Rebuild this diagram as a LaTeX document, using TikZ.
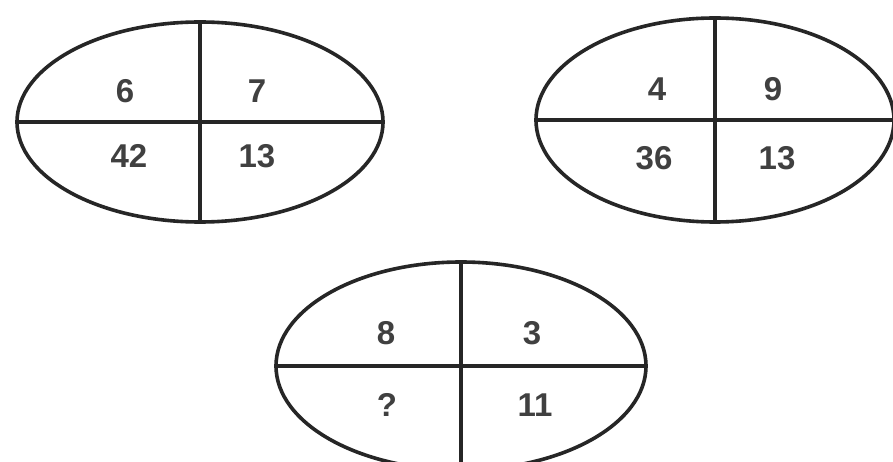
\documentclass[tikz,border=0pt]{standalone}
\usepackage{fontspec}
\setmainfont{Liberation Sans}
\usetikzlibrary{shapes.geometric}
\begin{document}
\begin{tikzpicture}[x=1pt,y=-1pt,
  oval/.style={draw=black!85,line width=3.6pt,ellipse,inner sep=0pt},
  divider/.style={draw=black!85,line width=3.2pt},
  num/.style={font=\fontsize{33}{36}\selectfont\bfseries,text=black!75,inner sep=0pt}]
\useasboundingbox (0,0) rectangle (893,462);
\clip (0,0) rectangle (893,462);
\fill[white] (0,0) rectangle (893,462);
% ellipse 1
\node[oval,minimum width=366pt,minimum height=200pt] (e1) at (200,122) {};
\draw[divider] (e1.north) -- (e1.south);
\draw[divider] (e1.west) -- (e1.east);
\node[num] (a1) at (125,91) {6};
\node[num] (b1) at (257,91) {7};
\node[num] (c1) at (129,156) {42};
\node[num] (d1) at (257,156) {13};
% ellipse 2
\node[oval,minimum width=358pt,minimum height=204pt] (e2) at (715,120) {};
\draw[divider] (e2.north) -- (e2.south);
\draw[divider] (e2.west) -- (e2.east);
\node[num] (a2) at (657,89) {4};
\node[num] (b2) at (773,89) {9};
\node[num] (c2) at (654,158) {36};
\node[num] (d2) at (777,158) {13};
% ellipse 3
\node[oval,minimum width=370pt,minimum height=208pt] (e3) at (461,366) {};
\draw[divider] (e3.north) -- (e3.south);
\draw[divider] (e3.west) -- (e3.east);
\node[num] (a3) at (386,333) {8};
\node[num] (b3) at (532,333) {3};
\node[num] (c3) at (387,405) {?};
\node[num] (d3) at (535,405) {11};
\end{tikzpicture}
\end{document}
